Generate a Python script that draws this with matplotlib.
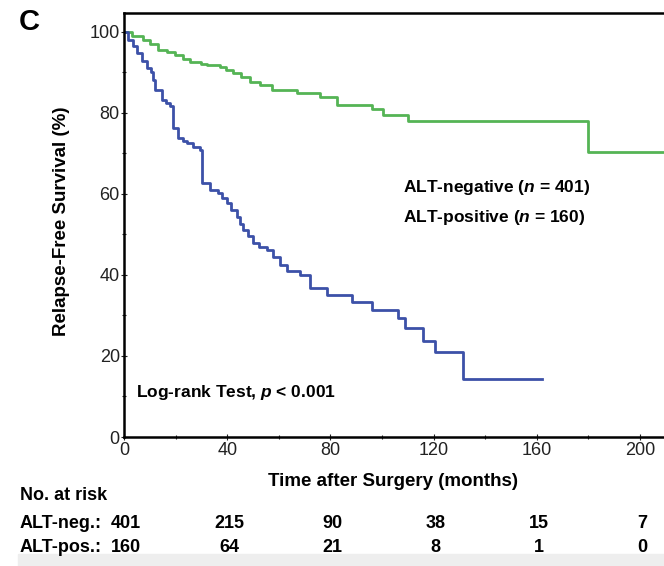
import matplotlib.pyplot as plt
import matplotlib.transforms as mtransforms
from matplotlib.patches import Rectangle

plt.rcParams['font.family'] = ['Liberation Sans', 'DejaVu Sans']
plt.rcParams['mathtext.fontset'] = 'custom'
plt.rcParams['mathtext.it'] = 'Liberation Sans:italic:bold'
plt.rcParams['mathtext.rm'] = 'Liberation Sans:bold'

# Kaplan-Meier step data (time in months, survival %)
neg_time = [0, 3, 7.5, 9.9, 13.3, 16.8, 19.8, 22.7, 25.6, 29.7, 32, 37.2, 39.5, 42.4, 45.5,
            48.8, 52.7, 57.2, 66.9, 76, 82.4, 96, 100.5, 110.2, 180, 222]
neg_surv = [100, 99, 98, 97, 95.6, 95, 94.2, 93.3, 92.7, 92.2, 91.9, 91.4, 90.7, 89.8, 88.8,
            87.7, 86.9, 85.7, 85.0, 83.9, 82.0, 80.9, 79.5, 78.1, 70.3, 70.3]

pos_time = [0, 1.7, 3.5, 4.9, 6.9, 8.8, 10.4, 11.4, 12.1, 14.6, 16.3, 17.8, 19.1, 21.1, 22.7,
            24.3, 26.7, 29.5, 30.1, 33.3, 36.6, 38.1, 39.8, 41.5, 43.7, 45, 46.3, 47.9, 50.1,
            52.4, 55.3, 57.8, 60.5, 63.1, 68.2, 72.1, 78.6, 88.3, 96, 106.3, 108.9, 116,
            120.6, 131.3, 162]
pos_surv = [100, 98, 96.5, 94.7, 92.8, 91, 90, 88.1, 85.7, 83.2, 82.4, 81.6, 76.2, 73.8, 73,
            72.5, 71.5, 70.9, 62.6, 61.0, 60.2, 59, 57.7, 56, 54.4, 52.6, 51.1, 49.5, 47.8,
            47, 46.2, 44.5, 42.5, 41, 40, 36.7, 35.1, 33.4, 31.4, 29.3, 26.8, 23.8,
            21.1, 14.2, 14.2]

risk_times = [0, 40, 80, 120, 160, 200]
risk_neg = [401, 215, 90, 38, 15, 7]
risk_pos = [160, 64, 21, 8, 1, 0]

W, H = 664, 566
fig = plt.figure(figsize=(W / 100, H / 100), dpi=100)

# light grey band at the very bottom of the screenshot
fig.patches.append(Rectangle((18 / W, 0), 1, 12 / H, transform=fig.transFigure,
                             color='#eeeeee', zorder=0))

ax = fig.add_axes([124 / W, 129 / H, 567.6 / W, 424.5 / H])
ax.step(neg_time, neg_surv, where='post', color='#55b455', lw=2.0)
ax.step(pos_time, pos_surv, where='post', color='#3c51a8', lw=2.0)

ax.set_xlim(0, 220)
ax.set_ylim(0, 104.8)
ax.set_xticks([0, 40, 80, 120, 160, 200])
ax.set_xticks(range(20, 220, 40), minor=True)
ax.set_yticks([0, 20, 40, 60, 80, 100])
ax.set_yticks(range(10, 100, 20), minor=True)
ax.tick_params(which='both', direction='inout', width=0.8, labelsize=13, colors='#222222')
ax.tick_params(which='major', length=5)
ax.tick_params(which='minor', length=3.5)
ax.tick_params(axis='y', pad=0.5)
ax.tick_params(axis='x', pad=1)
for s in ax.spines.values():
    s.set_linewidth(1.8)
    s.set_color('black')

fig.text(62 / W, 1 - 221 / H, 'Relapse-Free Survival (%)', rotation=90, fontsize=13.5,
         fontweight='bold', ha='center', va='center')
fig.text(393 / W, 1 - 481 / H, 'Time after Surgery (months)', fontsize=13.5,
         fontweight='bold', ha='center', va='center')
fig.text(19 / W, 1 - 22 / H, 'C', fontsize=21, fontweight='bold', ha='left', va='center')

ax.text(108, 61.5, r'ALT-negative ($\mathit{n}$ = 401)', fontsize=12.5,
        fontweight='bold', ha='left', va='center')
ax.text(108, 54.2, r'ALT-positive ($\mathit{n}$ = 160)', fontsize=12.5,
        fontweight='bold', ha='left', va='center')
ax.text(4.6, 10.9, r'Log-rank Test, $\mathit{p}$ < 0.001', fontsize=12.5,
        fontweight='bold', ha='left', va='center')

# number-at-risk table
trans = mtransforms.blended_transform_factory(ax.transData, fig.transFigure)
fig.text(20 / W, 1 - 496 / H, 'No. at risk', fontsize=13, fontweight='bold', va='center')
fig.text(20 / W, 1 - 523 / H, 'ALT-neg.:', fontsize=13, fontweight='bold', va='center')
fig.text(20 / W, 1 - 548 / H, 'ALT-pos.:', fontsize=13, fontweight='bold', va='center')
for t, n1, n2 in zip(risk_times, risk_neg, risk_pos):
    fig.text(t + 0.8, 1 - 523 / H, str(n1), transform=trans, fontsize=13,
             fontweight='bold', ha='center', va='center')
    fig.text(t + 0.8, 1 - 548 / H, str(n2), transform=trans, fontsize=13,
             fontweight='bold', ha='center', va='center')

fig.savefig('out.png', dpi=100)
